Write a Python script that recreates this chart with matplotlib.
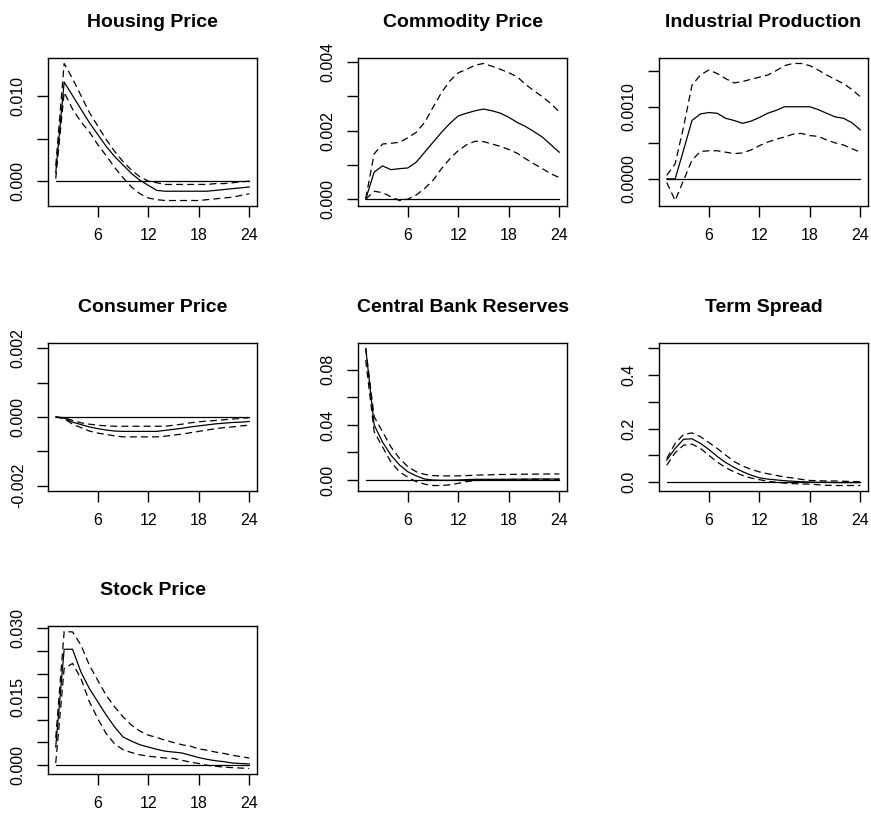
import matplotlib.pyplot as plt

plt.rcParams['font.family'] = ['Liberation Sans', 'DejaVu Sans']
plt.rcParams['lines.scale_dashes'] = False

horizon = list(range(1, 25))
x_ticks = [6, 12, 18, 24]

# Housing Price
house_mid = [0.0010, 0.0117, 0.0101, 0.0085, 0.0069, 0.0055, 0.0041, 0.0029, 0.0019, 0.0009, 0.0001, -0.0005,
             -0.0011, -0.0012, -0.0012, -0.0012, -0.0012, -0.0012, -0.0012, -0.0011, -0.0010, -0.0009, -0.0008, -0.0007]
house_up = [0.0018, 0.0139, 0.0121, 0.0101, 0.0081, 0.0065, 0.0049, 0.0035, 0.0023, 0.0013, 0.0005, 0.0000,
            -0.0002, -0.0004, -0.0004, -0.0004, -0.0004, -0.0004, -0.0004, -0.0003, -0.0003, -0.0002, -0.0001, 0.0000]
house_lo = [0.0003, 0.0105, 0.0085, 0.0070, 0.0058, 0.0043, 0.0030, 0.0016, 0.0004, -0.0007, -0.0015, -0.0020,
            -0.0022, -0.0023, -0.0023, -0.0023, -0.0023, -0.0023, -0.0022, -0.0021, -0.0020, -0.0019, -0.0017, -0.0015]

# Commodity Price
comm_mid = [0.0, 0.00079, 0.00097, 0.00086, 0.00089, 0.00091, 0.00108, 0.00137, 0.00166, 0.00195, 0.00221, 0.00243,
            0.00251, 0.00258, 0.00263, 0.00258, 0.00251, 0.00239, 0.00224, 0.00212, 0.00197, 0.00181, 0.00159, 0.00137]
comm_up = [0.00002, 0.00132, 0.00161, 0.00163, 0.00166, 0.00179, 0.00195, 0.00224, 0.00268, 0.00311, 0.00345, 0.00369,
           0.00379, 0.00391, 0.00396, 0.00388, 0.00379, 0.00369, 0.00357, 0.00335, 0.00316, 0.00299, 0.00279, 0.00255]
comm_lo = [0.0, 0.00023, 0.00019, 0.00007, -0.00004, 0.0, 0.00012, 0.00031, 0.00055, 0.00089, 0.00118, 0.00142,
           0.00159, 0.00169, 0.00168, 0.00161, 0.00154, 0.00145, 0.00134, 0.00118, 0.00103, 0.00089, 0.00074, 0.00063]

# Industrial Production
ip_mid = [0.0, 0.0, 0.00040, 0.00081, 0.00090, 0.00092, 0.00091, 0.00084, 0.00081, 0.00077, 0.00080, 0.00085,
          0.00091, 0.00095, 0.00100, 0.00100, 0.00100, 0.00100, 0.00096, 0.00091, 0.00086, 0.00084, 0.00078, 0.00068]
ip_up = [0.00005, 0.00021, 0.00072, 0.00130, 0.00144, 0.00151, 0.00146, 0.00139, 0.00133, 0.00135, 0.00138, 0.00141,
         0.00144, 0.00150, 0.00157, 0.00160, 0.00160, 0.00157, 0.00151, 0.00144, 0.00138, 0.00132, 0.00124, 0.00114]
ip_lo = [-0.00005, -0.00030, -0.00002, 0.00026, 0.00038, 0.00039, 0.00039, 0.00037, 0.00035, 0.00036, 0.00040, 0.00046,
         0.00051, 0.00055, 0.00058, 0.00062, 0.00063, 0.00060, 0.00059, 0.00054, 0.00050, 0.00047, 0.00042, 0.00037]

# Consumer Price
cpi_mid = [0.0, -0.00003, -0.00015, -0.00022, -0.00029, -0.00034, -0.00038, -0.00041, -0.00042, -0.00042, -0.00042,
           -0.00042, -0.00042, -0.00039, -0.00036, -0.00033, -0.00029, -0.00026, -0.00023, -0.00020, -0.00018,
           -0.00016, -0.00015, -0.00013]
cpi_up = [0.0, -0.00002, -0.00010, -0.00017, -0.00021, -0.00024, -0.00026, -0.00027, -0.00027, -0.00027, -0.00027,
          -0.00027, -0.00027, -0.00027, -0.00024, -0.00021, -0.00017, -0.00014, -0.00012, -0.00010, -0.00008,
          -0.00006, -0.00004, -0.00002]
cpi_lo = [0.0, -0.00005, -0.00021, -0.00031, -0.00041, -0.00047, -0.00051, -0.00055, -0.00058, -0.00058, -0.00058,
          -0.00058, -0.00058, -0.00056, -0.00053, -0.00050, -0.00046, -0.00042, -0.00038, -0.00034, -0.00031,
          -0.00029, -0.00026, -0.00024]

# Central Bank Reserves
cbr_mid = [0.0955, 0.040, 0.0275, 0.018, 0.011, 0.006, 0.003, 0.0007, 0.0, -0.0002, -0.0002, 0.0,
           0.0003, 0.0005, 0.0005, 0.0005, 0.0005, 0.0005, 0.0006, 0.0006, 0.0007, 0.0007, 0.0007, 0.0007]
cbr_up = [0.0955, 0.046, 0.035, 0.024, 0.0158, 0.0097, 0.006, 0.0041, 0.0032, 0.003, 0.003, 0.003,
          0.0032, 0.0035, 0.0037, 0.0038, 0.004, 0.004, 0.0042, 0.0042, 0.0043, 0.0043, 0.0044, 0.0044]
cbr_lo = [0.087, 0.035, 0.024, 0.013, 0.006, 0.002, -0.0012, -0.003, -0.004, -0.004, -0.0035, -0.0024,
          -0.0012, -0.0004, 0.0, 0.0002, 0.0003, 0.0004, 0.0004, 0.0005, 0.0005, 0.0005, 0.0005, 0.0005]

# Term Spread
ts_mid = [0.082, 0.126, 0.160, 0.162, 0.145, 0.122, 0.096, 0.073, 0.055, 0.039, 0.026, 0.016,
          0.011, 0.008, 0.005, 0.003, 0.001, 0.0, -0.001, -0.001, -0.002, -0.002, -0.002, -0.002]
ts_up = [0.088, 0.145, 0.178, 0.184, 0.170, 0.148, 0.126, 0.101, 0.077, 0.060, 0.048, 0.038,
         0.031, 0.025, 0.019, 0.015, 0.010, 0.006, 0.005, 0.004, 0.004, 0.003, 0.002, 0.001]
ts_lo = [0.063, 0.110, 0.138, 0.142, 0.126, 0.100, 0.075, 0.054, 0.038, 0.025, 0.015, 0.009,
         0.003, -0.001, -0.004, -0.006, -0.007, -0.008, -0.010, -0.012, -0.013, -0.013, -0.013, -0.013]

# Stock Price
stock_mid = [0.0040, 0.0254, 0.0254, 0.0204, 0.0168, 0.0139, 0.0110, 0.0084, 0.0062, 0.0053, 0.0045, 0.0040,
             0.0035, 0.0031, 0.0029, 0.0027, 0.0022, 0.0017, 0.0013, 0.0010, 0.0008, 0.0005, 0.0004, 0.0003]
stock_up = [0.0060, 0.0293, 0.0292, 0.0263, 0.0219, 0.0186, 0.0153, 0.0128, 0.0106, 0.0088, 0.0075, 0.0066,
            0.0061, 0.0055, 0.0050, 0.0045, 0.0042, 0.0036, 0.0033, 0.0029, 0.0026, 0.0022, 0.0019, 0.0016]
stock_lo = [0.0005, 0.0212, 0.0223, 0.0190, 0.0139, 0.0102, 0.0069, 0.0047, 0.0034, 0.0028, 0.0023, 0.0020,
            0.0018, 0.0016, 0.0015, 0.0011, 0.0007, 0.0004, 0.0000, -0.0002, -0.0004, -0.0005, -0.0006, -0.0007]

panels = [
    ('Housing Price', house_mid, house_up, house_lo, None,
     [0, 0.005, 0.010], ['0.000', '', '0.010']),
    ('Commodity Price', comm_mid, comm_up, comm_lo, None,
     [0, 0.001, 0.002, 0.003, 0.004], ['0.000', '', '0.002', '', '0.004']),
    ('Industrial Production', ip_mid, ip_up, ip_lo, None,
     [0, 0.0005, 0.0010, 0.0015], ['0.0000', '', '0.0010', '']),
    ('Consumer Price', cpi_mid, cpi_up, cpi_lo, (-0.002, 0.002),
     [-0.002, -0.001, 0, 0.001, 0.002], ['-0.002', '', '0.000', '', '0.002']),
    ('Central Bank Reserves', cbr_mid, cbr_up, cbr_lo, None,
     [0, 0.02, 0.04, 0.06, 0.08], ['0.00', '', '0.04', '', '0.08']),
    ('Term Spread', ts_mid, ts_up, ts_lo, (min(ts_lo), 0.5),
     [0, 0.1, 0.2, 0.3, 0.4, 0.5], ['0.0', '', '0.2', '', '0.4', '']),
    ('Stock Price', stock_mid, stock_up, stock_lo, None,
     [0, 0.005, 0.010, 0.015, 0.020, 0.025, 0.030], ['0.000', '', '', '0.015', '', '', '0.030']),
]

W, H = 871, 815
col_left = [48, 358, 659]
row_top = [58, 343, 626]
box_w, box_h = 209, 148

fig = plt.figure(figsize=(W / 100, H / 100), dpi=100)

for i, (title, mid, up, lo, ylim, yt, ytl) in enumerate(panels):
    r, c = divmod(i, 3)
    ax = fig.add_axes([col_left[c] / W, 1 - (row_top[r] + box_h) / H, box_w / W, box_h / H])
    ax.plot(horizon, [0] * len(horizon), color='black', lw=0.9)
    ax.plot(horizon, mid, color='black', lw=0.9)
    ax.plot(horizon, up, color='black', lw=0.9, ls='--', dashes=(5, 3))
    ax.plot(horizon, lo, color='black', lw=0.9, ls='--', dashes=(5, 3))

    # R style 4% padding
    x0, x1 = horizon[0], horizon[-1]
    ax.set_xlim(x0 - 0.04 * (x1 - x0), x1 + 0.04 * (x1 - x0))
    if ylim is None:
        y0, y1 = min(lo + mid + [0]), max(up + mid)
    else:
        y0, y1 = ylim
    ax.set_ylim(y0 - 0.04 * (y1 - y0), y1 + 0.04 * (y1 - y0))

    ax.set_xticks(x_ticks)
    ax.set_yticks(yt)
    ax.set_yticklabels(ytl, rotation=90, va='center')
    ax.tick_params(direction='out', length=8, width=1, labelsize=11.5, pad=8)
    for s in ax.spines.values():
        s.set_linewidth(1)
    ax.set_title(title, fontsize=14, fontweight='bold', pad=22)

fig.savefig('out.png', dpi=100)
